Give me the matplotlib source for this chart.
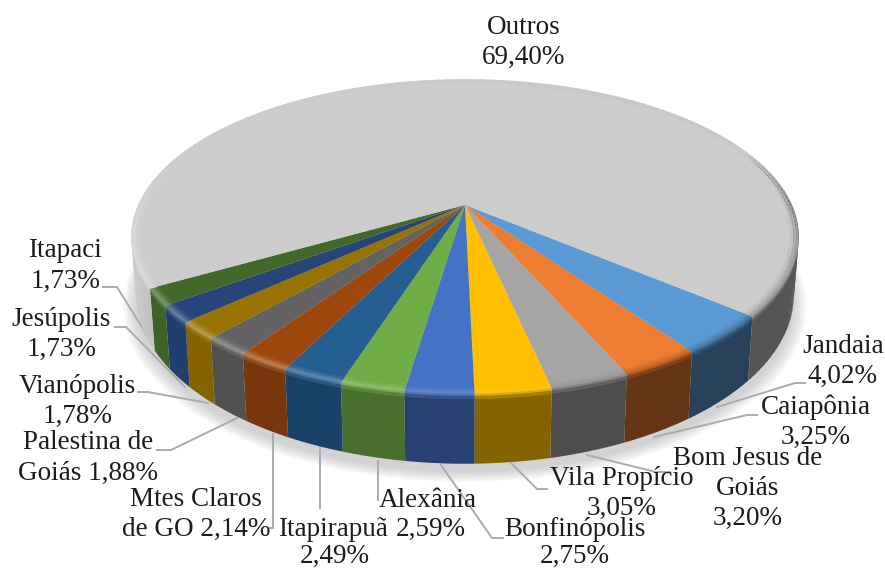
#!/usr/bin/env python3

import numpy as np
import matplotlib
matplotlib.use('Agg')
import matplotlib.pyplot as plt
from matplotlib.collections import PolyCollection
from matplotlib.colors import to_rgb

# slices, clockwise from the first one
cities = ['Jandaia', 'Caiapônia', 'Bom Jesus de Goiás', 'Vila Propício', 'Bonfinópolis', 'Alexânia',
          'Itapirapuã', 'Mtes Claros de GO', 'Palestina de Goiás', 'Vianópolis', 'Jesúpolis', 'Itapaci', 'Outros']
shares = [4.02, 3.25, 3.20, 3.05, 2.75, 2.59, 2.49, 2.14, 1.88, 1.78, 1.73, 1.73, 69.40]
colors = ['#5b9bd5', '#ed7d31', '#a5a5a5', '#ffc000', '#4472c4', '#70ad47', '#255e91',
          '#9e480e', '#636363', '#997300', '#264478', '#43682b', '#cdcbcc']

# label text, one string per line, with position in pixels
labels = [
    ('Outros', 524, 26), ('69,40%', 524, 56),
    ('Itapaci', 65, 249), ('1,73%', 66, 280),
    ('Jesúpolis', 61, 318), ('1,73%', 62, 348),
    ('Vianópolis', 77, 385), ('1,78%', 78, 415),
    ('Palestina de', 88, 441), ('Goiás 1,88%', 88, 472),
    ('Mtes Claros', 196, 498), ('de GO 2,14%', 196, 528),
    ('Itapirapuã', 333, 528), ('2,49%', 335, 555),
    ('Alexânia', 428, 499), ('2,59%', 431, 528),
    ('Bonfinópolis', 575, 528), ('2,75%', 575, 555),
    ('Vila Propício', 622, 477), ('3,05%', 622, 507),
    ('Bom Jesus de', 748, 457), ('Goiás', 748, 487), ('3,20%', 748, 517),
    ('Caiapônia', 816, 406), ('3,25%', 816, 436),
    ('Jandaia', 843, 345), ('4,02%', 843, 375),
]

# leader lines in pixels
leaders = [
    [(103, 287), (117, 287), (150, 340)],
    [(115, 327), (126, 327), (185, 387)],
    [(138, 392), (148, 392), (208, 403)],
    [(157, 450), (171, 450), (237, 418)],
    [(270, 528), (273, 528), (273, 434)],
    [(320, 508), (320, 447)],
    [(378, 500), (378, 461)],
    [(441, 465), (492, 538), (503, 538)],
    [(511, 463), (537, 489), (547, 489)],
    [(587, 455), (656, 472), (670, 472)],
    [(654, 437), (747, 415), (757, 415)],
    [(717, 407), (795, 383), (805, 383)],
]

CX, CY = 465, 205
RX, RY = 327, 151
PERSP = 0.2
DEPTH = 56
START = 130


def project(theta, r=1.0, z=0.0):
    """Disc angle (deg, clockwise from back), radius and depth to pixels."""
    t = np.radians(theta)
    u = r * np.sin(t)
    v = r * np.cos(t)
    s = 1 / (1 + PERSP * v)
    return CX + RX * u * s * (1 - 0.015 * z), CY - RY * v * s + DEPTH * z * s


def band(a0, a1, r0, z0, r1, z1):
    """Polygon of one strip of the edge between two angles."""
    angles = np.linspace(a0, a1, max(2, int((a1 - a0) * 2) + 1))
    x0, y0 = project(angles, r0, z0)
    x1, y1 = project(angles[::-1], r1, z1)
    return np.column_stack([np.concatenate([x0, x1]), np.concatenate([y0, y1])])


def mix(a, b, w):
    return tuple((1 - w) * x + w * y for x, y in zip(a, b))


def wall_shade(u):
    return np.interp(u, [-1, -0.85, -0.5, 0, 0.5, 1], [1.0, 0.95, 0.75, 0.55, 0.42, 0.42])


def rim_color(base, theta, t):
    u, v = np.sin(np.radians(theta)), np.cos(np.radians(theta))
    wall = tuple(c * wall_shade(u) for c in base)
    hi = np.clip((0.35 - u) / 0.8, 0, 1) * 0.3
    dark = np.clip((u - 0.1) / 0.5, 0, 1)
    mid = mix(mix(base, (1, 1, 1), hi), wall, 0.4 * dark)
    col = mix(base, mid, t / 0.55) if t < 0.55 else mix(mid, wall, (t - 0.55) / 0.45)
    return mix(base, col, np.clip(1.0 - v * 2.5, 0.06, 1))


def plot_pie(ax):
    # soft shadow under the pie
    ring = np.arange(START, START + 360.5, 2)
    for grow in np.linspace(1.04, 1.0, 10):
        x, y = project(ring, 1.0, 1.0)
        ax.fill(CX + (x - CX) * grow, CY + 8 + (y - CY) * grow, color='#808080', alpha=0.04, lw=0, zorder=1)

    edges = START + np.cumsum([0] + shares) * 3.6 * 100 / sum(shares)
    wall_polys, wall_cols, rim_polys, rim_cols = [], [], [], []
    rim_steps = [(0.975, 0, 0.0), (0.985, 0, 0.25), (0.993, 0, 0.45), (1.0, 0, 0.6), (1.0, 0.03, 0.75), (1.0, 0.07, 1.0)]

    for i, col in enumerate(colors):
        base = to_rgb(col)
        # the big slice needs steps for its shading, the small ones are one flat piece
        if shares[i] > 10:
            cuts = np.append(np.arange(edges[i], edges[i + 1], 1.5), edges[i + 1])
        else:
            cuts = np.array([edges[i], edges[i + 1]])
        overlap = 0.5 if shares[i] > 10 else 0
        for a0, a1 in zip(cuts[:-1], cuts[1:]):
            am = (a0 + a1) / 2
            wall_polys.append(band(a0, min(a1 + overlap, edges[i + 1]), 1, 0.05, 1, 1))
            wall_cols.append(tuple(c * wall_shade(np.sin(np.radians(am))) for c in base))
        # flat top
        arc = np.linspace(edges[i], edges[i + 1], max(3, int(shares[i] * 8)))
        tx, ty = project(arc, 0.98)
        ax.fill(np.append(tx, CX), np.append(ty, CY), color=col, lw=0, zorder=4)
        # bevel round the edge
        for a0, a1 in zip(cuts[:-1], cuts[1:]):
            am = (a0 + a1) / 2
            for (r0, z0, t0), (r1, z1, t1) in zip(rim_steps[:-1], rim_steps[1:]):
                rim_polys.append(band(a0, min(a1 + overlap, edges[i + 1]), r0, z0, r1, z1 + 0.01))
                rim_cols.append(rim_color(base, am, (t0 + t1) / 2))

    walls = PolyCollection(wall_polys, facecolors=wall_cols, linewidths=0, zorder=3)
    rims = PolyCollection(rim_polys, facecolors=rim_cols, linewidths=0, zorder=5)
    walls.set_snap(False)
    rims.set_snap(False)
    ax.add_collection(walls)
    ax.add_collection(rims)


def main():
    fig = plt.figure(figsize=(8.85, 5.69), dpi=100)
    ax = fig.add_axes([0, 0, 1, 1])
    ax.set_xlim(0, 885)
    ax.set_ylim(569, 0)
    ax.axis('off')

    plot_pie(ax)

    for line in leaders:
        ax.plot([p[0] for p in line], [p[1] for p in line], color='#ababab', lw=1.4, zorder=2, solid_joinstyle='miter')

    for text, x, y in labels:
        ax.text(x, y + 1.5, text, family='Liberation Serif', fontsize=19.5, color='#1c1c1c',
                ha='center', va='center', zorder=8)

    fig.savefig('out.png', dpi=100)


if __name__ == '__main__':
    main()
